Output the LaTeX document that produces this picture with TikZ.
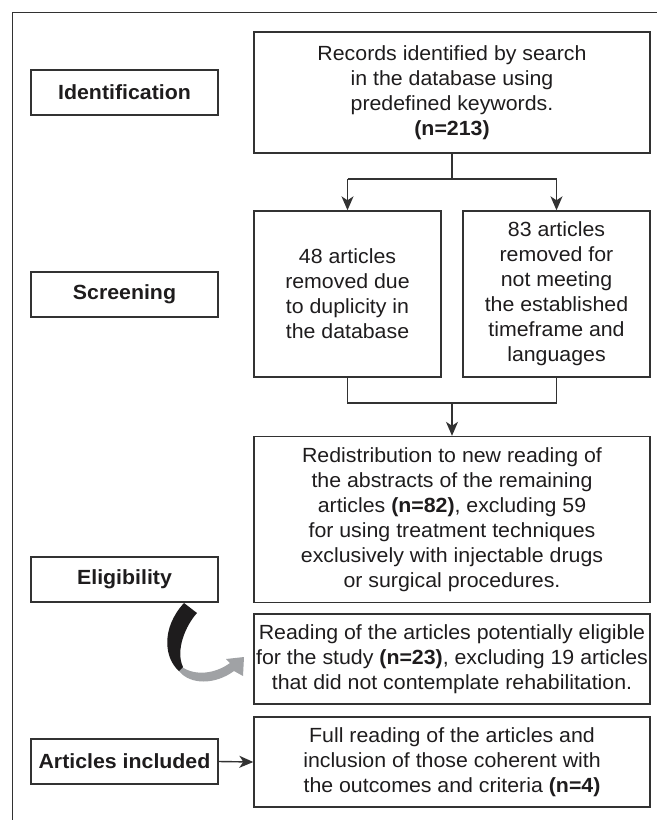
\documentclass[tikz,border=0pt]{standalone}
\usepackage{fontspec}
\setmainfont{Liberation Sans}[FakeStretch=1.04]
\usetikzlibrary{arrows.meta}
\definecolor{ink}{RGB}{30,28,29}
\definecolor{linec}{RGB}{50,50,50}
\definecolor{arrgrey}{RGB}{160,162,165}
\begin{document}
\begin{tikzpicture}[x=1pt,y=-1pt,
  every node/.style={font=\fontsize{20.5}{25}\selectfont, text=ink},
  box/.style={draw=linec, line width=1.4pt, align=center, inner sep=0pt, anchor=center},
  lbl/.style={box, minimum width=187pt, minimum height=45pt, font=\fontsize{20.5}{25}\selectfont\bfseries},
  conn/.style={draw=linec, line width=1.4pt},
  arr/.style={conn, -{Stealth[length=14pt,width=12pt,inset=4pt]}}]
\path[use as bounding box] (0,0) rectangle (657,820);
% outer frame (top and left edges)
\draw[conn] (12.5,820) -- (12.5,12.5) -- (657,12.5);

% main boxes
\node[box, minimum width=396pt, minimum height=121pt] (top) at (452,92.5)
  {Records identified by search\\in the database using\\predefined keywords.\\\textbf{(n=213)}};
\node[box, minimum width=187pt, minimum height=166pt] (scrL) at (347.5,294)
  {48 articles\\removed due\\to duplicity in\\the database};
\node[box, minimum width=187pt, minimum height=166pt] (scrR) at (556.5,294)
  {83 articles\\removed for\\not meeting\\the established\\timeframe and\\languages};
\node[box, minimum width=396pt, minimum height=166pt] (redist) at (452,519.5)
  {Redistribution to new reading of\\the abstracts of the remaining\\articles \textbf{(n=82)}, excluding 59\\for using treatment techniques\\exclusively with injectable drugs\\or surgical procedures.};
\node[box, minimum width=396pt, minimum height=90pt] (read) at (452,659)
  {Reading of the articles potentially eligible\\for the study \textbf{(n=23)}, excluding 19 articles\\that did not contemplate rehabilitation.};
\node[box, minimum width=396pt, minimum height=90pt] (full) at (452,762)
  {Full reading of the articles and\\inclusion of those coherent with\\the outcomes and criteria \textbf{(n=4)}};

% stage labels
\node[lbl] (ident) at (124.5,92.5) {Identification};
\node[lbl] (scr) at (124.5,294.5) {Screening};
\node[lbl] (elig) at (124.5,579.5) {Eligibility};
\node[lbl] (incl) at (124.5,761.5) {Articles included};

% connectors
\coordinate (spM) at (452,179);
\coordinate (spL) at (347.5,179);
\coordinate (spR) at (556.5,179);
\draw[conn] (top.south) -- (spM);
\draw[conn] (spL) -- (spR);
\draw[arr] (spL) -- (scrL.north);
\draw[arr] (spR) -- (scrR.north);

\coordinate (mL) at (347.5,403);
\coordinate (mR) at (556.5,403);
\coordinate (mM) at (452,403);
\draw[conn] (scrL.south) -- (mL) -- (mR) -- (scrR.south);
\draw[arr] (mM) -- (redist.north);

\draw[arr] (incl.east) -- (full.west);

% curved ribbon arrow from Eligibility
\fill[arrgrey] (179,671) .. controls (190,685) and (215,685) .. (234,671)
  -- (243,676) -- (244,657) -- (226,659) -- (230,663)
  .. controls (215,674) and (195,676) .. (182,667) -- cycle;
\fill[ink] (184,603) -- (197,613) .. controls (186,625) and (175,650) .. (183,667)
  -- (179,671) .. controls (164,658) and (161,628) .. (184,603) -- cycle;
\end{tikzpicture}
\end{document}
